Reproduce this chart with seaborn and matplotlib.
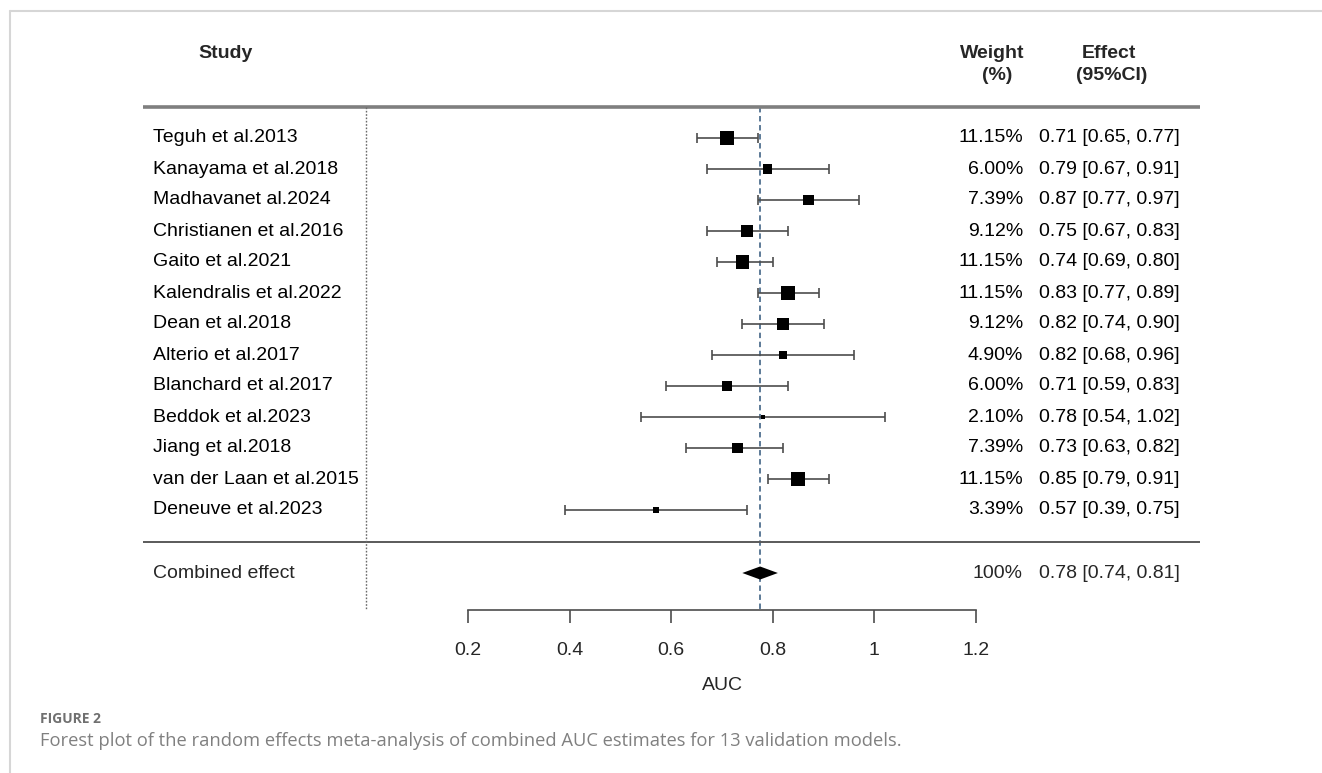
import numpy as np
import pandas as pd
import matplotlib
matplotlib.use("Agg")
import matplotlib.pyplot as plt
from matplotlib.transforms import blended_transform_factory
from matplotlib.lines import Line2D
import seaborn as sns

# ---------------- data ----------------
studies = ["Teguh et al.2013", "Kanayama et al.2018", "Madhavanet al.2024",
           "Christianen et al.2016", "Gaito et al.2021", "Kalendralis et al.2022",
           "Dean et al.2018", "Alterio et al.2017", "Blanchard et al.2017",
           "Beddok et al.2023", "Jiang et al.2018", "van der Laan et al.2015",
           "Deneuve et al.2023"]
auc = [0.71, 0.79, 0.87, 0.75, 0.74, 0.83, 0.82, 0.82, 0.71, 0.78, 0.73, 0.85, 0.57]
ci_lo = [0.65, 0.67, 0.77, 0.67, 0.69, 0.77, 0.74, 0.68, 0.59, 0.54, 0.63, 0.79, 0.39]
ci_hi = [0.77, 0.91, 0.97, 0.83, 0.80, 0.89, 0.90, 0.96, 0.83, 1.02, 0.82, 0.91, 0.75]
weights = [11.15, 6.00, 7.39, 9.12, 11.15, 11.15, 9.12, 4.90, 6.00, 2.10, 7.39, 11.15, 3.39]

combined_name = "Combined effect"
combined_auc = 0.775
combined_lo = 0.74
combined_hi = 0.81
combined_weight_label = "100%"
combined_effect_label = "0.78 [0.74, 0.81]"

tick_values = [0.2, 0.4, 0.6, 0.8, 1.0, 1.2]
tick_labels = ["0.2", "0.4", "0.6", "0.8", "1", "1.2"]

caption_head = "FIGURE 2"
caption = ("Forest plot of the random effects meta-analysis of combined AUC "
           "estimates for 13 validation models.")

# ---------------- figure ----------------
sns.set_style("white")
plt.rcParams["font.family"] = ["Liberation Sans", "DejaVu Sans"]

W, H = 1322, 773
fig = plt.figure(figsize=(W / 100, H / 100), dpi=100)

fx = lambda px: px / W
fy = lambda py: 1 - py / H

ROW0, ROWSTEP = 138.0, 31.0          # pixel y of first row, spacing
X02, XSCALE = 468.0, 508.0           # pixel x of AUC 0.2, pixels per AUC unit

ax = fig.add_axes([0, 0, 1, 1])
ax.set_xlim(0.2 - X02 / XSCALE, 0.2 + (W - X02) / XSCALE)
ax.set_ylim((H - ROW0) / ROWSTEP, -ROW0 / ROWSTEP)
ax.axis("off")

def rowy(py):
    return (py - ROW0) / ROWSTEP

n = len(studies)
df = pd.DataFrame({"study": studies, "auc": auc, "lo": ci_lo, "hi": ci_hi,
                   "weight": weights, "row": np.arange(n)})

# error bars
ax.errorbar(df["auc"], df["row"],
            xerr=[df["auc"] - df["lo"], df["hi"] - df["auc"]],
            fmt="none", ecolor="#4d4d4d", elinewidth=1.2, capsize=3.5,
            capthick=1.2, zorder=2)

# weighted squares
sns.scatterplot(data=df, x="auc", y="row", size="weight", sizes=(8, 95),
                marker="s", color="black", linewidth=0, legend=False,
                ax=ax, zorder=3)

# combined diamond
comb_row = rowy(573)
dh = 0.21
ax.fill([combined_lo, combined_auc, combined_hi, combined_auc],
        [comb_row, comb_row - dh, comb_row, comb_row + dh],
        color="black", zorder=3, linewidth=0)

# reference dashed line at pooled estimate
ax.plot([combined_auc, combined_auc], [rowy(107), rowy(610)],
        color="#4f6f8f", lw=1.3, ls=(0, (3, 2)), zorder=1)

# table rules
xl = ax.get_xlim()
to_data_x = lambda px: xl[0] + px / W * (xl[1] - xl[0])
ax.plot([to_data_x(143), to_data_x(1200)], [rowy(107)] * 2, color="#7f7f7f", lw=2.6,
        solid_capstyle="butt", zorder=1)
ax.plot([to_data_x(143), to_data_x(1200)], [rowy(542)] * 2, color="#5a5a5a", lw=1.4,
        solid_capstyle="butt", zorder=1)
ax.plot([to_data_x(366)] * 2, [rowy(107), rowy(610)], color="#6a6a6a", lw=1.0,
        ls=(0, (1.2, 1.2)), zorder=1)

# text columns
tr = blended_transform_factory(fig.transFigure, ax.transData)
fs = 14
for i, r in df.iterrows():
    ax.text(fx(153), r["row"], r["study"], transform=tr, ha="left", va="center",
            fontsize=fs, color="black")
    ax.text(fx(1023), r["row"], f"{r['weight']:.2f}%", transform=tr, ha="right",
            va="center", fontsize=fs, color="black")
    ax.text(fx(1039), r["row"], f"{r['auc']:.2f} [{r['lo']:.2f}, {r['hi']:.2f}]",
            transform=tr, ha="left", va="center", fontsize=fs, color="black")
ax.text(fx(153), comb_row, combined_name, transform=tr, ha="left", va="center",
        fontsize=fs)
ax.text(fx(1023), comb_row, combined_weight_label, transform=tr, ha="right",
        va="center", fontsize=fs)
ax.text(fx(1039), comb_row, combined_effect_label, transform=tr, ha="left",
        va="center", fontsize=fs)

# headers
hfs = 14
fig.text(fx(226), fy(53), "Study", ha="center", va="center", fontsize=hfs,
         fontweight="bold")
fig.text(fx(992), fy(53), "Weight", ha="center", va="center", fontsize=hfs,
         fontweight="bold")
fig.text(fx(997), fy(76), "(%)", ha="center", va="center", fontsize=hfs,
         fontweight="bold")
fig.text(fx(1109), fy(53), "Effect", ha="center", va="center", fontsize=hfs,
         fontweight="bold")
fig.text(fx(1112), fy(76), "(95%CI)", ha="center", va="center", fontsize=hfs,
         fontweight="bold")

# AUC axis
ax2 = fig.add_axes([fx(X02), fy(610), XSCALE / W, 0.0001])
ax2.set_xlim(0.2, 1.2)
ax2.set_ylim(0, 1)
ax2.patch.set_alpha(0)
for s in ["left", "right", "bottom"]:
    ax2.spines[s].set_visible(False)
ax2.spines["top"].set_visible(True)
ax2.spines["top"].set_color("#4d4d4d")
ax2.spines["top"].set_linewidth(1.2)
ax2.set_yticks([])
ax2.set_xticks(tick_values)
ax2.set_xticklabels(tick_labels)
ax2.tick_params(axis="x", direction="out", length=9.5, width=1.2, color="#4d4d4d",
                pad=13.5, labelsize=fs, bottom=True)
ax2.set_xlabel("AUC", fontsize=fs, labelpad=13)

# panel frame (light grey)
fig.add_artist(Line2D([fx(10), 1], [fy(11), fy(11)], color="#d6d6d6", lw=1.5,
                      transform=fig.transFigure))
fig.add_artist(Line2D([fx(10), fx(10)], [fy(11), 0], color="#d6d6d6", lw=1.5,
                      transform=fig.transFigure))

# caption
fig.text(fx(40), fy(719), caption_head, ha="left", va="center", fontsize=10,
         color="#707070", fontweight="bold", family=["Open Sans", "DejaVu Sans"])
fig.text(fx(40), fy(741), caption, ha="left", va="center", fontsize=13.2,
         color="#808080", family=["Open Sans", "DejaVu Sans"])

fig.savefig("out.png", dpi=100)
